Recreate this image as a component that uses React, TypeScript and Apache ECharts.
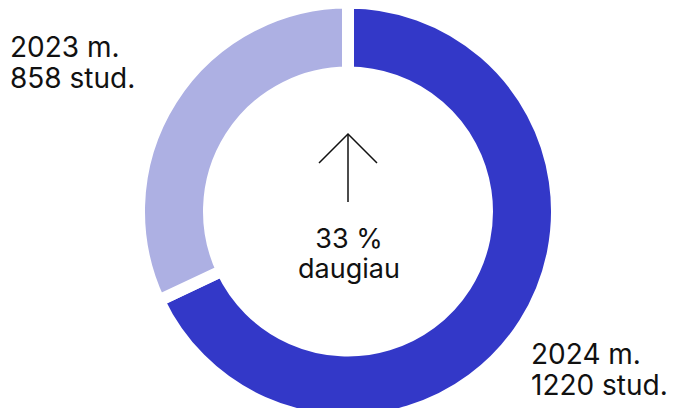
import React, { useEffect, useRef } from "react";
import * as echarts from "echarts";

const years = ["2024 m.", "2023 m."];
const students = [1220, 858];
const unit = "stud.";
// share of the ring as drawn
const shares = [68, 32];
const colors = ["#3338C8", "#ADB0E3"];
const centerLines = ["33 %", "daugiau"];

const FONT = "Inter, 'Noto Sans', sans-serif";

function textEl(text: string, x: number, y: number, size: number, align = "left") {
  return {
    type: "text",
    x,
    y,
    style: {
      text,
      font: `${size}px ${FONT}`,
      lineHeight: size,
      align,
      fill: "#111111",
    },
  };
}

export default function App() {
  const ref = useRef<HTMLDivElement>(null);
  useEffect(() => {
    const chart = echarts.init(ref.current!, null, { renderer: "svg" });
    const cx = 348;
    const cy = 211.5;
    chart.setOption({
      animation: false,
      backgroundColor: "#ffffff",
      series: [
        {
          type: "pie",
          center: [cx, cy],
          radius: [139, 209],
          startAngle: 90,
          clockwise: true,
          silent: true,
          label: { show: false },
          labelLine: { show: false },
          itemStyle: { borderColor: "#ffffff", borderWidth: 12 },
          data: shares.map((v, i) => ({
            name: years[i],
            value: v,
            itemStyle: { color: colors[i] },
          })),
        },
      ],
      graphic: [
        textEl(years[1], 10, 33, 28),
        textEl(`${students[1]} ${unit}`, 10, 64, 28),
        textEl(years[0], 531, 340, 28),
        textEl(`${students[0]} ${unit}`, 531, 371, 28),
        {
          type: "line",
          shape: { x1: cx, y1: 135, x2: cx, y2: 202 },
          style: { stroke: "#111111", lineWidth: 1.5 },
        },
        {
          type: "polyline",
          shape: { points: [[319, 163], [cx, 134], [377, 163]] },
          style: { stroke: "#111111", lineWidth: 1.5, fill: null },
        },
        textEl(centerLines[0], cx + 1, 225, 27, "center"),
        textEl(centerLines[1], cx + 1, 255, 27, "center"),
      ],
    });
    return () => chart.dispose();
  }, []);
  return (
    <div
      ref={ref}
      style={{ position: "fixed", left: 0, top: 0, width: 673, height: 408 }}
    />
  );
}
